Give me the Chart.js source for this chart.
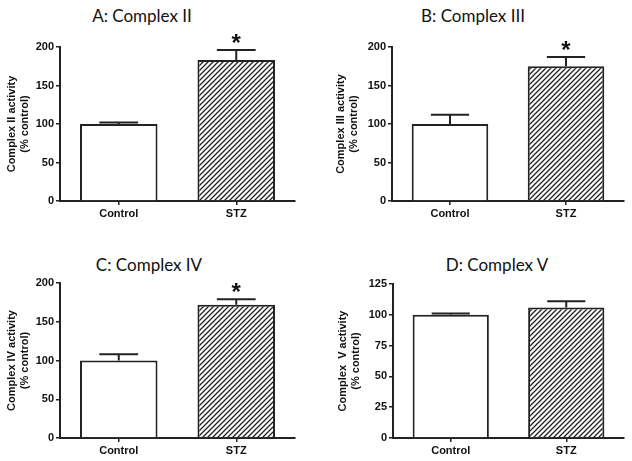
<!DOCTYPE html>
<html>
<head>
<meta charset="utf-8">
<script src="https://cdn.jsdelivr.net/npm/chart.js@4"></script>
<style>
  body { margin: 0; background: #fff; width: 632px; height: 461px; overflow: hidden; position: relative; }
  .panel { position: absolute; }
  .ttl { position: absolute; font-family: Lato, "Open Sans", sans-serif; font-size: 17px; color: #111;
         transform: translate(-50%, -50%); white-space: nowrap; }
</style>
</head>
<body>
<div class="ttl" style="left:142px; top:15px;">A: Complex II</div>
<div class="ttl" style="left:473px; top:15px;">B: Complex III</div>
<div class="ttl" style="left:149px; top:264px;">C: Complex IV</div>
<div class="ttl" style="left:497px; top:264px;">D: Complex V</div>
<div class="panel" style="left:0px; top:0px;"><canvas id="chartA"></canvas></div>
<div class="panel" style="left:329px; top:0px;"><canvas id="chartB"></canvas></div>
<div class="panel" style="left:0px; top:230px;"><canvas id="chartC"></canvas></div>
<div class="panel" style="left:331px; top:230px;"><canvas id="chartD"></canvas></div>
<script>
var categories = ['Control', 'STZ'];

var complexII = [100, 183];
var complexIIErr = [2, 13];
var complexIII = [100, 175];
var complexIIIErr = [12, 12];
var complexIV = [100, 172];
var complexIVErr = [8, 7];
var complexV = [100, 106];
var complexVErr = [1, 5];

// asterisk marks (significant vs control)
var sigII = [false, true];
var sigIII = [false, true];
var sigIV = [false, true];
var sigV = [false, false];

var yTicksA = [0, 50, 100, 150, 200];
var yTicksD = [0, 25, 50, 75, 100, 125];

function hatch() {
  var c = document.createElement('canvas');
  c.width = 5; c.height = 5;
  var g = c.getContext('2d');
  g.fillStyle = '#fff';
  g.fillRect(0, 0, 5, 5);
  g.strokeStyle = '#222';
  g.lineWidth = 1.3;
  g.beginPath();
  g.moveTo(-1, 1); g.lineTo(1, -1);
  g.moveTo(0, 5); g.lineTo(5, 0);
  g.moveTo(4, 6); g.lineTo(6, 4);
  g.stroke();
  return g.createPattern(c, 'repeat');
}

var errorBars = {
  id: 'errorBars',
  afterDatasetsDraw: function(chart) {
    var ctx = chart.ctx;
    var y = chart.scales.y;
    var meta = chart.getDatasetMeta(0);
    var vals = chart.data.datasets[0].data;
    var errs = chart.options.plugins.errorBars.err;
    var sig = chart.options.plugins.errorBars.sig;
    ctx.save();
    ctx.strokeStyle = '#222';
    ctx.lineWidth = 2;
    meta.data.forEach(function(bar, i) {
      var top = y.getPixelForValue(vals[i]);
      var hi = y.getPixelForValue(vals[i] + errs[i]);
      var half = bar.width / 4;
      ctx.beginPath();
      ctx.moveTo(bar.x, top);
      ctx.lineTo(bar.x, hi);
      ctx.moveTo(bar.x - half, hi);
      ctx.lineTo(bar.x + half, hi);
      ctx.stroke();
      if (sig[i]) {
        ctx.fillStyle = '#111';
        ctx.font = 'bold 24px "Liberation Sans", Arial, sans-serif';
        ctx.textAlign = 'center';
        ctx.textBaseline = 'alphabetic';
        ctx.fillText('*', bar.x, hi + 1);
      }
    });
    ctx.restore();
  }
};

function makeChart(id, w, h, vals, errs, sig, yTitle, maxY, step, pad, yWidth, bottom) {
  var el = document.getElementById(id);
  el.width = w; el.height = h;
  el.style.width = w + 'px'; el.style.height = h + 'px';
  return new Chart(el.getContext('2d'), {
    type: 'bar',
    data: {
      labels: categories,
      datasets: [{
        data: vals,
        backgroundColor: ['#ffffff', hatch()],
        borderColor: '#222',
        borderWidth: 2,
        categoryPercentage: 1,
        barPercentage: 0.66
      }]
    },
    options: {
      responsive: false,
      animation: false,
      devicePixelRatio: 1,
      layout: { padding: pad },
      plugins: {
        legend: { display: false },
        tooltip: { enabled: false },
        title: { display: false },
        errorBars: { err: errs, sig: sig }
      },
      scales: {
        x: {
          grid: { display: true, drawOnChartArea: false, offset: false, tickLength: 4, color: '#222', lineWidth: 1.5 },
          border: { display: true, color: '#222', width: 2 },
          ticks: { color: '#111', padding: 2, font: { family: '"Liberation Sans", Arial, sans-serif', size: 11, weight: 'bold' } },
          afterFit: function(s) { s.height = h - bottom; }
        },
        y: {
          min: 0,
          max: maxY,
          ticks: { stepSize: step, color: '#111', padding: 2, font: { family: '"Liberation Sans", Arial, sans-serif', size: 11, weight: 'bold' } },
          grid: { display: true, drawOnChartArea: false, tickLength: 4, color: '#222', lineWidth: 1.5 },
          border: { display: true, color: '#222', width: 2 },
          title: {
            display: true,
            text: [yTitle, '(% control)'],
            color: '#111',
            padding: { top: 5, bottom: 0 },
            font: { family: '"Liberation Sans", Arial, sans-serif', size: 11, weight: 'bold' }
          },
          afterFit: function(s) { s.width = yWidth; }
        }
      }
    },
    plugins: [errorBars]
  });
}

makeChart('chartA', 300, 238, complexII, complexIIErr, sigII, 'Complex II activity', yTicksA[yTicksA.length - 1], 50,
  { top: 47, right: 5, left: 0, bottom: 0 }, 60, 201);
makeChart('chartB', 303, 238, complexIII, complexIIIErr, sigIII, 'Complex III activity', yTicksA[yTicksA.length - 1], 50,
  { top: 47, right: 8, left: 0, bottom: 0 }, 63, 201);
makeChart('chartC', 300, 238, complexIV, complexIVErr, sigIV, 'Complex IV activity', yTicksA[yTicksA.length - 1], 50,
  { top: 53, right: 5, left: 0, bottom: 0 }, 60, 208);
makeChart('chartD', 301, 238, complexV, complexVErr, sigV, 'Complex  V activity', yTicksD[yTicksD.length - 1], 25,
  { top: 54, right: 8, left: 0, bottom: 0 }, 62, 208);
</script>
</body>
</html>
